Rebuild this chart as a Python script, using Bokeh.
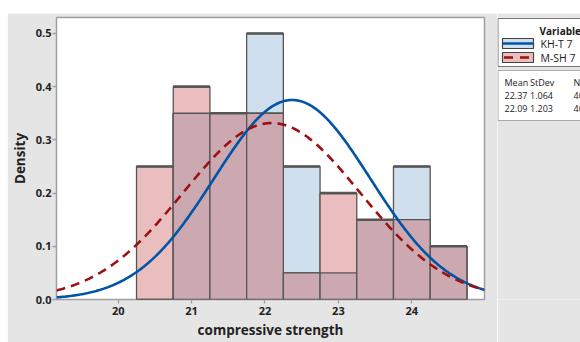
import numpy as np
from bokeh.plotting import figure
from bokeh.layouts import row
from bokeh.models import Range1d, FixedTicker, PrintfTickFormatter
from bokeh.core.properties import value
from bokeh.embed import file_html
from bokeh.resources import INLINE

# ---- data ----
bin_centers = [20.5, 21.0, 21.5, 22.0, 22.5, 23.0, 23.5, 24.0, 24.5]
kh_density = [0.0, 0.35, 0.35, 0.50, 0.25, 0.05, 0.15, 0.25, 0.10]
msh_density = [0.25, 0.40, 0.35, 0.35, 0.05, 0.20, 0.15, 0.15, 0.10]
bin_width = 0.5
series_names = ["KH-T 7", "M-SH 7"]
series_mean = [22.37, 22.09]
series_sd = [1.064, 1.203]
series_n = [40, 40]
x_ticks = [20, 21, 22, 23, 24]
y_ticks = [0.0, 0.1, 0.2, 0.3, 0.4, 0.5]

BLUE_FILL = "#cfdfee"
RED_FILL = "#eabebe"
MIX_FILL = "#cca8b1"
EDGE = "#555555"
BLUE_LINE = "#0054a6"
RED_LINE = "#9b1111"
BG = "#e5e5e5"
FONT = "Open Sans"

XMIN, XMAX = 19.16, 24.99
OFF_X, OFF_Y = 7, 13         # white strip left / top of the grey panel
H = 342 - OFF_Y              # figure height
TOP_B, BOT_B = 4, 43         # frame spans window y 17..299
FRAME_TOP = OFF_Y + TOP_B
FRAME_BOT = OFF_Y + H - BOT_B
MAIN_W = 497 - OFF_X         # frame x 55..484
SIDE_X0 = 497
SIDE_W = 580 - SIDE_X0

p = figure(output_backend="svg", toolbar_location=None,
           x_range=Range1d(XMIN, XMAX), y_range=Range1d(0, 0.53),
           width=MAIN_W, height=H,
           min_border_left=55 - OFF_X, min_border_right=497 - 484,
           min_border_top=TOP_B, min_border_bottom=BOT_B)
p.background_fill_color = "white"
p.border_fill_color = BG
p.outline_line_color = "#a0a0a0"
p.outline_line_width = 1.5
p.grid.visible = False

lefts = [c - bin_width / 2 for c in bin_centers]
rights = [c + bin_width / 2 for c in bin_centers]
overlap = [min(a, b) for a, b in zip(kh_density, msh_density)]
envelope = [max(a, b) for a, b in zip(kh_density, msh_density)]

p.quad(left=lefts, right=rights, bottom=0, top=kh_density,
       fill_color=BLUE_FILL, line_color=EDGE, line_width=1.3)
p.quad(left=lefts, right=rights, bottom=0, top=msh_density,
       fill_color=RED_FILL, line_color=EDGE, line_width=1.3)
p.quad(left=lefts, right=rights, bottom=0, top=overlap,
       fill_color=MIX_FILL, line_color=EDGE, line_width=1.3)
p.segment(x0=lefts, x1=rights, y0=envelope, y1=envelope,
          line_color=EDGE, line_width=2.6)

xs = np.linspace(XMIN, XMAX, 400)
colors = [BLUE_LINE, RED_LINE]
dashes = ["solid", "9 6"]
for m, s, c, d in zip(series_mean, series_sd, colors, dashes):
    ys = np.exp(-0.5 * ((xs - m) / s) ** 2) / (s * np.sqrt(2 * np.pi))
    p.line(xs, ys, line_color=c, line_width=2.6, line_dash=d)

for ax in (p.xaxis[0], p.yaxis[0]):
    ax.axis_line_color = None
    ax.major_tick_line_color = "#a0a0a0"
    ax.major_tick_line_width = 1.3
    ax.major_tick_in = 0
    ax.major_tick_out = 4
    ax.minor_tick_line_color = None
    ax.major_label_text_font = FONT
    ax.major_label_text_font_size = "11px"
    ax.major_label_text_font_style = "bold"
    ax.major_label_text_color = "#222222"
    ax.axis_label_text_font = FONT
    ax.axis_label_text_font_size = "13.5px"
    ax.axis_label_text_font_style = "bold"
    ax.axis_label_text_color = "#222222"
    ax.axis_label_text_line_height = 1.0

p.xaxis.ticker = FixedTicker(ticks=x_ticks)
p.yaxis.ticker = FixedTicker(ticks=y_ticks)
p.yaxis.formatter = PrintfTickFormatter(format="%.1f")
p.xaxis.axis_label = "compressive strength"
p.yaxis.axis_label = "Density"
p.xaxis.major_label_standoff = 3
p.xaxis.axis_label_standoff = 3
p.yaxis.major_label_standoff = 1
p.yaxis.axis_label_standoff = 4

# ---- legend panel: side figure whose data units are window pixels ----
side = figure(output_backend="svg", toolbar_location=None,
              width=SIDE_W, height=H,
              x_range=Range1d(SIDE_X0, SIDE_X0 + SIDE_W),
              y_range=Range1d(FRAME_BOT, FRAME_TOP),
              x_axis_location=None, y_axis_location=None,
              min_border_left=0, min_border_right=0,
              min_border_top=TOP_B, min_border_bottom=BOT_B)
side.outline_line_color = None
side.background_fill_color = BG
side.border_fill_color = BG
side.grid.visible = False

def txt(x, y, s, size="10.5px", bold=False):
    side.text(x=[x], y=[y], text=[s], text_font=value(FONT),
              text_font_size=size, text_font_style="bold" if bold else "normal",
              text_color="#1a1a1a", text_baseline="middle", text_align="left")

def rect(l, t, r, b, fill, line, lw=1.0):
    side.quad(left=[l], right=[r], top=[t], bottom=[b],
              fill_color=fill, line_color=line, line_width=lw)

# box 1: variables
rect(497.5, 18, 620, 66, "white", "#777777")
txt(539, 30, "Variable", size="10px", bold=True)
rect(502, 38, 533, 48, BLUE_FILL, "#444444", 1.2)
side.line(x=[502.5, 532.5], y=[43, 43], line_color=BLUE_LINE, line_width=2.6)
txt(540, 43, series_names[0])
rect(502, 52, 533, 62, RED_FILL, "#444444", 1.2)
side.line(x=[503.5, 532], y=[57, 57], line_color=RED_LINE, line_width=2.6,
          line_dash="9 7")
txt(540, 57, series_names[1])

# box 2: statistics table
rect(497.5, 70, 620, 120, "white", "#aaaaaa")
col_x = [504, 529.5, 573]
txt(col_x[0], 82, "Mean", size="9px")
txt(col_x[1], 82, "StDev", size="9px")
txt(col_x[2], 82, "N", size="9px")
row_y = [95, 108]
for i in range(2):
    txt(col_x[0], row_y[i], f"{series_mean[i]:.2f}", size="9px")
    txt(col_x[1], row_y[i], f"{series_sd[i]:.3f}", size="9px")
    txt(col_x[2], row_y[i], f"{series_n[i]}", size="9px")

layout = row(p, side, spacing=0)
layout.margin = (OFF_Y, 0, 0, OFF_X)
open("out.html", "w").write(file_html(layout, INLINE))
